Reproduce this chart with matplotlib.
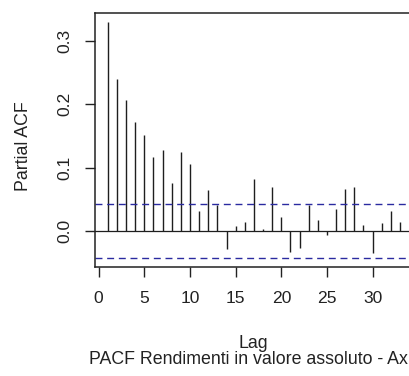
"""PACF of absolute returns, R-style base graphics look."""

import matplotlib
matplotlib.use("Agg")
import matplotlib.pyplot as plt
import numpy as np

plt.rcParams["font.family"] = ["Liberation Sans", "DejaVu Sans"]

# lags 1..33 (the rest of the original plot is cropped away)
lags = list(range(1, 34))
pacf_vals = [
    0.329, 0.239, 0.207, 0.172, 0.151, 0.116, 0.127, 0.076, 0.124, 0.106,
    0.032, 0.064, 0.041, -0.028, 0.008, 0.014, 0.082, 0.003, 0.070, 0.022,
    -0.033, -0.027, 0.041, 0.018, -0.007, 0.034, 0.066, 0.070, 0.010, -0.034,
    0.012, 0.032, 0.014,
]
conf_limit = 0.042
x_ticks = [0, 5, 10, 15, 20, 25, 30]
y_ticks = [0.0, 0.1, 0.2, 0.3]

W, H = 410, 376
FS = 12.6
fig = plt.figure(figsize=(W / 100, H / 100), dpi=100)
# axes box runs past the right edge of the figure (cropped original)
ax = fig.add_axes([95.4 / W, (H - 267) / H, 335.3 / W, 254 / H])

ax.vlines(lags, 0, pacf_vals, color="#1e1e1e", linewidth=1.0)
ax.axhline(0, color="#1e1e1e", linewidth=0.9)
for c in (conf_limit, -conf_limit):
    ax.axhline(c, color="#2a2aa0", linewidth=1.0, linestyle=(0, (5, 3.4)))

ax.set_xlim(-0.36, 36.36)
ax.set_ylim(-0.0568, 0.3438)
ax.set_xticks(x_ticks)
ax.set_yticks(y_ticks)
ax.set_yticklabels(["0.0", "0.1", "0.2", "0.3"], rotation=90, va="center")
ax.tick_params(axis="both", direction="out", length=7.5, width=1.0,
               labelsize=FS, color="#222222", labelcolor="#222222")
ax.tick_params(axis="x", pad=10)
ax.tick_params(axis="y", pad=9)
for s in ax.spines.values():
    s.set_linewidth(1.1)
    s.set_color("#222222")

fig.text(24 / W, 1 - 146 / H, "Partial ACF", rotation=90, ha="center",
         va="center", fontsize=12.8, color="#222222")
fig.text(253 / W, 1 - 348 / H, "Lag", ha="center", va="baseline",
         fontsize=12.8, color="#222222")
fig.text(89 / W, 1 - 364 / H, "PACF Rendimenti in valore assoluto - Ax",
         ha="left", va="baseline", fontsize=12.75, color="#222222")

fig.savefig("out.png", dpi=100, facecolor="white")
